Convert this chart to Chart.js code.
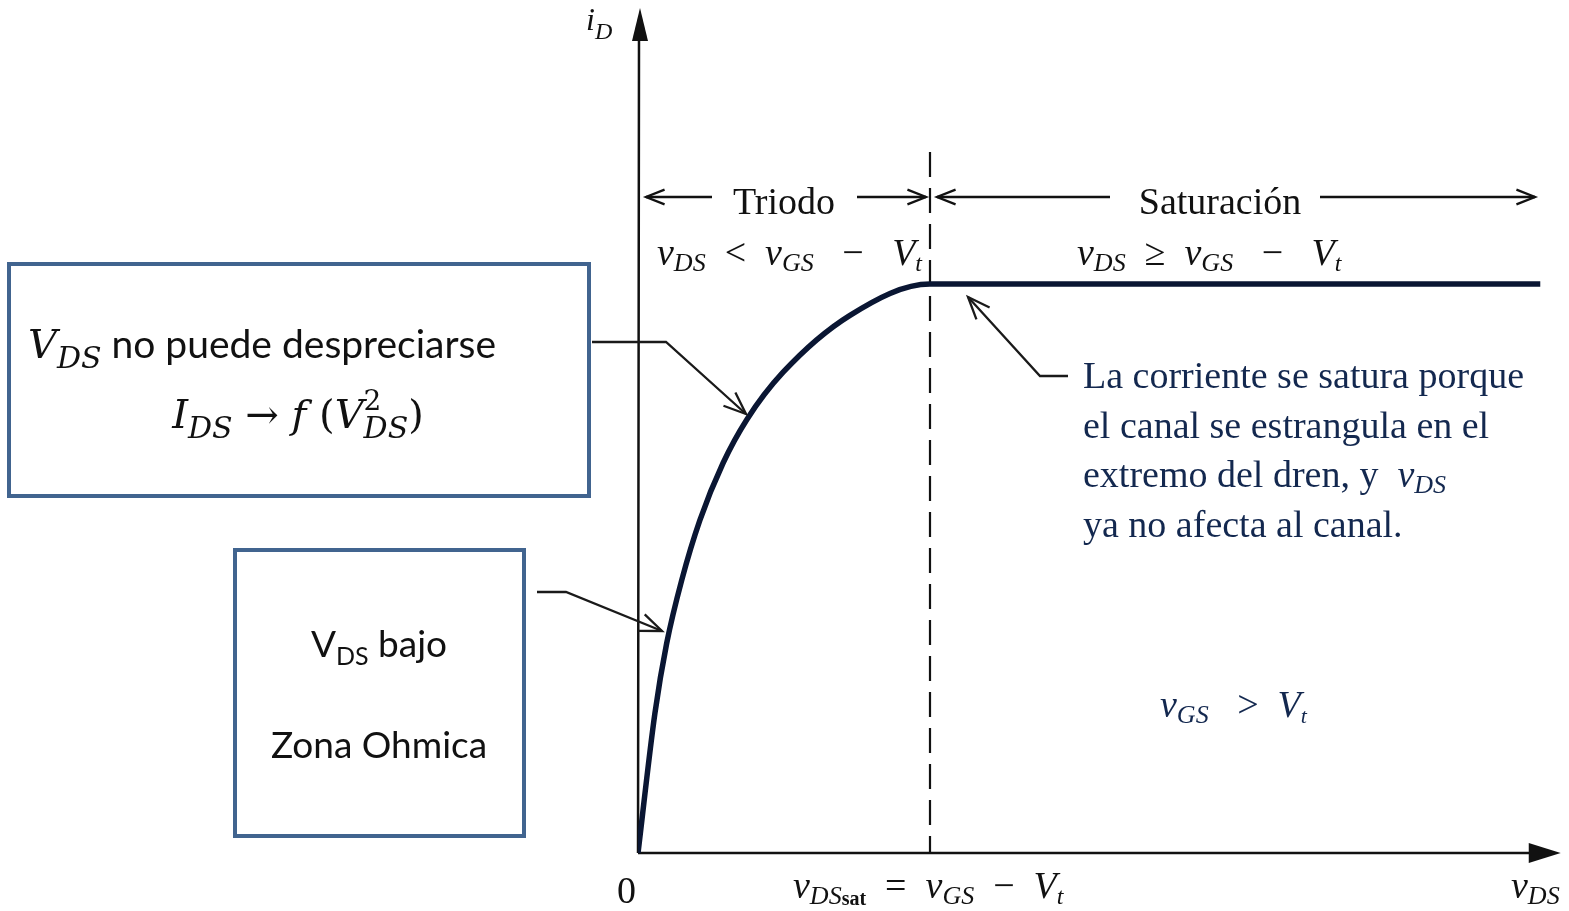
<!DOCTYPE html>
<html>
<head>
<meta charset="utf-8">
<title>Curva iD - vDS del MOSFET</title>
<script src="https://cdn.jsdelivr.net/npm/chart.js@4.4.0/dist/chart.umd.min.js"></script>
<style>
  html, body { margin: 0; padding: 0; background: #fff; }
  #wrap { width: 1569px; height: 911px; }
</style>
</head>
<body>
<div id="wrap"><canvas id="curva" width="1569" height="911"></canvas></div>
<script>
// vDS normalizado (vDSsat = 1) e iD normalizado (corriente de saturación = 1)
const vdsNorm = [0, 0.058, 0.098, 0.150, 0.212, 0.291, 0.373, 0.497, 0.726, 1.0, 3.09];
const idNorm  = [0, 0.246, 0.368, 0.480, 0.585, 0.685, 0.762, 0.845, 0.945, 1.0, 1.0];
const vdsSat = 1.0;
const xMax = 3.16;
const yMax = 1.48;

const SERIF = '"Liberation Serif", "Times New Roman", serif';
const MATH = '"DejaVu Serif", serif';
const SANS = 'Lato, "Open Sans", sans-serif';
const INK = '#111';
const NAVY = '#13284f';
const CURVE = '#0a1633';
const BOX = '#41648f';

const points = vdsNorm.map((v, i) => ({ x: v, y: idNorm[i] }));

// texto con subíndices: parts = [texto, fuente, desplazamiento vertical, avance]
function runs(ctx, parts, x, y, align) {
  let w = 0;
  parts.forEach(p => { ctx.font = p[1]; w += p[3] !== undefined ? p[3] : ctx.measureText(p[0]).width; });
  let cx = align === 'center' ? x - w / 2 : x;
  parts.forEach(p => {
    ctx.font = p[1];
    ctx.fillText(p[0], cx, y + (p[2] || 0));
    cx += p[3] !== undefined ? p[3] : ctx.measureText(p[0]).width;
  });
}

function chevron(ctx, x0, y0, x1, y1, len) {
  const a = Math.atan2(y1 - y0, x1 - x0);
  const s = 0.38;
  ctx.beginPath();
  ctx.moveTo(x1 - len * Math.cos(a - s), y1 - len * Math.sin(a - s));
  ctx.lineTo(x1, y1);
  ctx.lineTo(x1 - len * Math.cos(a + s), y1 - len * Math.sin(a + s));
  ctx.stroke();
}

function leader(ctx, pts) {
  ctx.beginPath();
  ctx.moveTo(pts[0][0], pts[0][1]);
  for (let i = 1; i < pts.length; i++) ctx.lineTo(pts[i][0], pts[i][1]);
  ctx.stroke();
  const n = pts.length;
  chevron(ctx, pts[n - 2][0], pts[n - 2][1], pts[n - 1][0], pts[n - 1][1], 24);
}

function hArrow(ctx, xFrom, xTo, y) {
  ctx.beginPath();
  ctx.moveTo(xFrom, y);
  ctx.lineTo(xTo, y);
  ctx.stroke();
  chevron(ctx, xFrom, y, xTo, y, 20);
}

// ejes con flecha y la línea discontinua de vDSsat
const axesPlugin = {
  id: 'ejes',
  beforeDatasetsDraw(chart) {
    const { ctx, chartArea, scales } = chart;
    const x0 = scales.x.getPixelForValue(0);
    const y0 = scales.y.getPixelForValue(0);
    const xs = scales.x.getPixelForValue(vdsSat);
    ctx.save();
    ctx.strokeStyle = INK;
    ctx.fillStyle = INK;
    ctx.lineWidth = 2.5;
    ctx.beginPath();
    ctx.moveTo(x0, y0);
    ctx.lineTo(x0 + 1, chartArea.top + 20);
    ctx.moveTo(x0, y0);
    ctx.lineTo(chartArea.right - 20, y0);
    ctx.stroke();
    // puntas
    ctx.beginPath();
    ctx.moveTo(x0 + 2, chartArea.top - 3);
    ctx.lineTo(x0 + 10, chartArea.top + 30);
    ctx.lineTo(x0 - 6, chartArea.top + 30);
    ctx.closePath();
    ctx.fill();
    ctx.beginPath();
    ctx.moveTo(chartArea.right, y0);
    ctx.lineTo(chartArea.right - 32, y0 - 10);
    ctx.lineTo(chartArea.right - 32, y0 + 10);
    ctx.closePath();
    ctx.fill();
    // vDSsat
    ctx.lineWidth = 2.2;
    ctx.setLineDash([25, 11]);
    ctx.beginPath();
    ctx.moveTo(xs, 152);
    ctx.lineTo(xs, y0);
    ctx.stroke();
    ctx.restore();
  }
};

const notesPlugin = {
  id: 'notas',
  afterDraw(chart) {
    const { ctx } = chart;
    ctx.save();
    ctx.textBaseline = 'alphabetic';
    ctx.textAlign = 'left';
    ctx.fillStyle = INK;
    ctx.strokeStyle = INK;
    ctx.lineWidth = 2.3;

    // etiquetas de los ejes
    runs(ctx, [['i', 'italic 32px ' + SERIF], ['D', 'italic 24px ' + SERIF, 9]], 586, 30);
    ctx.font = '38px ' + SERIF;
    ctx.fillText('0', 617, 903);
    runs(ctx, [
      ['v', 'italic 38px ' + SERIF], ['DS', 'italic 26px ' + SERIF, 6], ['sat', 'bold 20px ' + SERIF, 7],
      ['  =  ', '38px ' + SERIF], ['v', 'italic 38px ' + SERIF], ['GS', 'italic 26px ' + SERIF, 6],
      ['  −  ', '38px ' + SERIF], ['V', 'italic 38px ' + SERIF], ['t', 'italic 24px ' + SERIF, 6]
    ], 793, 898);
    runs(ctx, [['v', 'italic 38px ' + SERIF], ['DS', 'italic 26px ' + SERIF, 6]], 1511, 898);

    // regiones
    ctx.font = '38px ' + SERIF;
    ctx.textAlign = 'center';
    ctx.fillText('Triodo', 784, 214);
    ctx.fillText('Saturación', 1220, 214);
    ctx.textAlign = 'left';
    hArrow(ctx, 712, 646, 197);
    hArrow(ctx, 857, 926, 197);
    hArrow(ctx, 1110, 937, 197);
    hArrow(ctx, 1320, 1535, 197);

    runs(ctx, [
      ['v', 'italic 38px ' + SERIF], ['DS', 'italic 26px ' + SERIF, 6], ['  <  ', '38px ' + SERIF],
      ['v', 'italic 38px ' + SERIF], ['GS', 'italic 26px ' + SERIF, 6], ['   −   ', '38px ' + SERIF],
      ['V', 'italic 38px ' + SERIF], ['t', 'italic 24px ' + SERIF, 6]
    ], 657, 265);
    runs(ctx, [
      ['v', 'italic 38px ' + SERIF], ['DS', 'italic 26px ' + SERIF, 6], ['  ≥  ', '38px ' + SERIF],
      ['v', 'italic 38px ' + SERIF], ['GS', 'italic 26px ' + SERIF, 6], ['   −   ', '38px ' + SERIF],
      ['V', 'italic 38px ' + SERIF], ['t', 'italic 24px ' + SERIF, 6]
    ], 1077, 265);

    // nota de saturación
    ctx.fillStyle = NAVY;
    ctx.font = '38px ' + SERIF;
    ctx.fillText('La corriente se satura porque', 1083, 388);
    ctx.fillText('el canal se estrangula en el', 1083, 438);
    runs(ctx, [['extremo del dren, y  ', '38px ' + SERIF], ['v', 'italic 38px ' + SERIF], ['DS', 'italic 26px ' + SERIF, 6]], 1083, 487);
    ctx.font = '38px ' + SERIF;
    ctx.fillText('ya no afecta al canal.', 1083, 537);
    runs(ctx, [
      ['v', 'italic 38px ' + SERIF], ['GS', 'italic 26px ' + SERIF, 6], ['   >  ', '38px ' + SERIF],
      ['V', 'italic 38px ' + SERIF], ['t', 'italic 22px ' + SERIF, 6]
    ], 1160, 717);

    ctx.fillStyle = INK;
    ctx.strokeStyle = '#1a1a1a';
    leader(ctx, [[1068, 376], [1040, 376], [968, 297]]);
    leader(ctx, [[592, 342], [666, 342], [746, 414]]);
    leader(ctx, [[537, 592], [566, 592], [662, 631]]);

    // cuadros explicativos
    ctx.strokeStyle = BOX;
    ctx.lineWidth = 4;
    ctx.strokeRect(9, 264, 580, 232);
    ctx.strokeRect(235, 550, 289, 286);

    ctx.fillStyle = INK;
    runs(ctx, [
      ['V', 'italic 40px ' + MATH], ['DS', 'italic 30px ' + MATH, 10],
      [' no puede despreciarse', '39px ' + SANS]
    ], 28, 358);
    // I_DS → f(V²_DS)
    ctx.font = 'italic 30px ' + MATH;
    const wDS = ctx.measureText('DS').width;
    runs(ctx, [
      ['I', 'italic 40px ' + MATH], ['DS', 'italic 30px ' + MATH, 10], [' → ', '40px ' + MATH],
      ['f', 'italic 40px ' + MATH], [' (', '40px ' + MATH], ['V', 'italic 40px ' + MATH],
      ['2', '28px ' + MATH, -18, 0], ['DS', 'italic 30px ' + MATH, 10, wDS], [')', '40px ' + MATH]
    ], 298, 428, 'center');

    runs(ctx, [['V', '37px ' + SANS], ['DS', '25px ' + SANS, 8], [' bajo', '37px ' + SANS]], 379, 657, 'center');
    ctx.font = '37px ' + SANS;
    ctx.textAlign = 'center';
    ctx.fillText('Zona Ohmica', 379, 758);
    ctx.restore();
  }
};

const ctx = document.getElementById('curva').getContext('2d');
new Chart(ctx, {
  type: 'scatter',
  data: {
    datasets: [{
      data: points,
      showLine: true,
      borderColor: CURVE,
      borderWidth: 5.5,
      pointRadius: 0,
      cubicInterpolationMode: 'monotone',
      fill: false
    }]
  },
  options: {
    responsive: false,
    animation: false,
    devicePixelRatio: 1,
    layout: { padding: { left: 638, bottom: 58, right: 1569 - 638 - 292 * xMax, top: 853 - 569 * yMax } },
    plugins: { legend: { display: false }, tooltip: { enabled: false } },
    scales: {
      x: { type: 'linear', min: 0, max: xMax, display: false },
      y: { type: 'linear', min: 0, max: yMax, display: false }
    }
  },
  plugins: [axesPlugin, notesPlugin]
});
</script>
</body>
</html>
